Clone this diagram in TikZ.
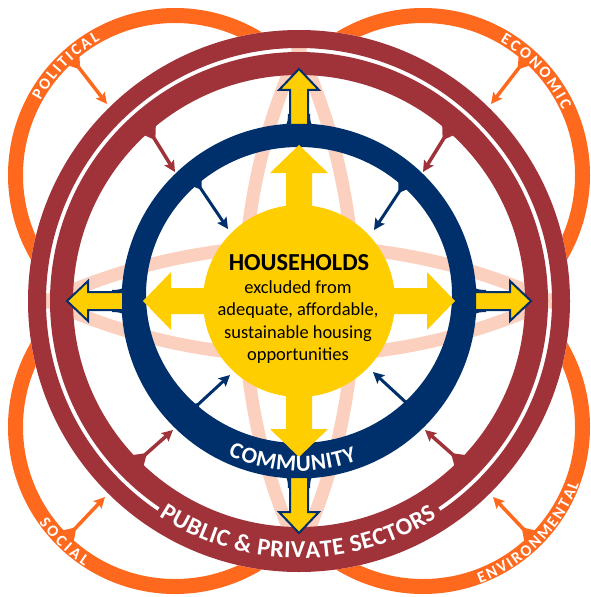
\documentclass[tikz,border=0pt]{standalone}
\usepackage{fontspec}
\setmainfont{Carlito}
\usepackage{xcolor}
\usetikzlibrary{arrows.meta,calc,decorations.text}

\definecolor{orangeband}{RGB}{255,105,30}
\definecolor{maroonband}{RGB}{160,50,58}
\definecolor{navyband}{RGB}{0,48,108}
\definecolor{houseyellow}{RGB}{255,206,0}
\definecolor{palepeach}{RGB}{251,208,190}

\tikzset{
  ringlabel/.style={decorate, decoration={text along path, text align=fit to path, text color=white, text={#1}}},
  fantip/.style={-{Stealth[length=11bp,width=11bp,inset=2bp]}}
}

\begin{document}
\begin{tikzpicture}[x=1bp,y=-1bp]
  \useasboundingbox (0,0) rectangle (591,597);

  % Orange rings in the four corners
  \foreach \cx/\cy in {175/175,423/175,175/427,423/427}
    \draw[orangeband, line width=15bp] (\cx,\cy) circle (159.5);

  % Blank out the inside of the big ring
  \fill[white] (299,301) circle (271);

  % Pale petals behind the rings
  \begin{scope}
    \clip (299,301) circle (253);
    \foreach \cx/\cy in {-246/301,844/301,299/-244,299/846}
      \draw[palepeach, line width=13bp] (\cx,\cy) circle (600);
  \end{scope}

  % Public and private ring: two bands, closed at the bottom
  \draw[maroonband, line width=18bp] (299,301) circle (262);
  \draw[maroonband, line width=23bp] (299,301) circle (237.5);
  \draw[maroonband, line width=6bp] ($(299,301)+(56:251)$) arc[start angle=56, end angle=124, radius=251];

  % Community ring, wider at the bottom
  \fill[navyband, even odd rule] (299,301) circle (177.5) (299,295) ellipse [x radius=153, y radius=148];

  % Yellow cross: big arrows inside, outlined arrows outside
  \foreach \a in {0,90,180,270} {
    \begin{scope}[shift={(299,301)}, rotate=\a]
      \fill[navyband] (-25,-170) .. controls (-13,-171) and (-11,-177) .. (-11,-187) -- (11,-187) .. controls (11,-177) and (13,-171) .. (25,-170) -- cycle;
      \draw[navyband, fill=houseyellow, line width=2bp] (-9,-176) -- (-9,-211) -- (-20,-211) -- (0,-232) -- (20,-211) -- (9,-211) -- (9,-176) -- cycle;
      \fill[houseyellow] (-13,0) -- (-13,-128) -- (-29,-128) -- (0,-156) -- (29,-128) -- (13,-128) -- (13,0) -- cycle;
    \end{scope}
  }
  \fill[houseyellow] (299,301) circle (96);

  % Arrow ends
  \coordinate (polS) at (73,60);    \coordinate (polE) at (107,104);
  \coordinate (ecoS) at (525,60);   \coordinate (ecoE) at (491,104);
  \coordinate (socS) at (68,536);   \coordinate (socE) at (105,497);
  \coordinate (envS) at (530,536);  \coordinate (envE) at (493,497);
  \coordinate (ppUL) at (149,130);  \coordinate (cmUL) at (175,172);
  \coordinate (ppUR) at (449,130);  \coordinate (cmUR) at (423,172);
  \coordinate (ppLL) at (138,461);  \coordinate (cmLL) at (173,430);
  \coordinate (ppLR) at (460,461);  \coordinate (cmLR) at (425,430);
  \coordinate (cmIUL) at (195,180); \coordinate (hhUL) at (228,229);
  \coordinate (cmIUR) at (405,183); \coordinate (hhUR) at (374,230);
  \coordinate (cmILL) at (191,411); \coordinate (hhLL) at (230,375);
  \coordinate (cmILR) at (412,408); \coordinate (hhLR) at (373,372);

  % Small arrows with a widened foot
  \foreach \s/\e/\col/\w in {polS/polE/orangeband/3.5, ecoS/ecoE/orangeband/3.5, socS/socE/orangeband/3.5, envS/envE/orangeband/3.5,
      ppUL/cmUL/maroonband/3.5, ppUR/cmUR/maroonband/3.5, ppLL/cmLL/maroonband/3.5, ppLR/cmLR/maroonband/3.5,
      cmIUL/hhUL/navyband/3, cmIUR/hhUR/navyband/3, cmILL/hhLL/navyband/3, cmILR/hhLR/navyband/3} {
    \fill[\col] ($(\s)!8bp!90:(\e)$) -- ($(\s)!12bp!(\e)$) -- ($(\s)!8bp!-90:(\e)$) -- cycle;
    \draw[\col, line width=\w bp, fantip] (\s) -- (\e);
  }

  % Centre text
  \node[font=\fontsize{24.5}{27}\selectfont\bfseries, inner sep=0pt] (hhtitle) at (299,262.5) {HOUSEHOLDS};
  \node[font=\fontsize{18.5}{22.5}\selectfont, align=center, inner sep=0pt] (hhbody) at (298,322) {excluded from\\adequate, affordable,\\sustainable housing\\opportunities};

  % Labels along the rings
  \path[ringlabel={|\fontsize{16}{16}\selectfont\bfseries|POLITICAL}] ($(175,175)+(209:154)$) arc[start angle=209, end angle=241, radius=154];
  \path[ringlabel={|\fontsize{16}{16}\selectfont\bfseries|ECONOMIC}] ($(423,175)+(300:154)$) arc[start angle=300, end angle=335, radius=154];
  \path[ringlabel={|\fontsize{16}{16}\selectfont\bfseries|SOCIAL}] ($(175,427)+(145:166)$) arc[start angle=145, end angle=123, radius=166];
  \path[ringlabel={|\fontsize{16}{16}\selectfont\bfseries|ENVIRONMENTAL}] ($(423,427)+(70:166)$) arc[start angle=70, end angle=20, radius=166];
  \path[ringlabel={|\fontsize{23}{23}\selectfont\bfseries|COMMUNITY}] ($(299,301)+(114.7:170)$) arc[start angle=114.7, end angle=70, radius=170];
  \path[ringlabel={|\fontsize{24.5}{24.5}\selectfont\bfseries|PUBLIC {\&} PRIVATE SECTORS}] ($(299,301)+(123:257)$) arc[start angle=123, end angle=57.4, radius=257];
\end{tikzpicture}
\end{document}
